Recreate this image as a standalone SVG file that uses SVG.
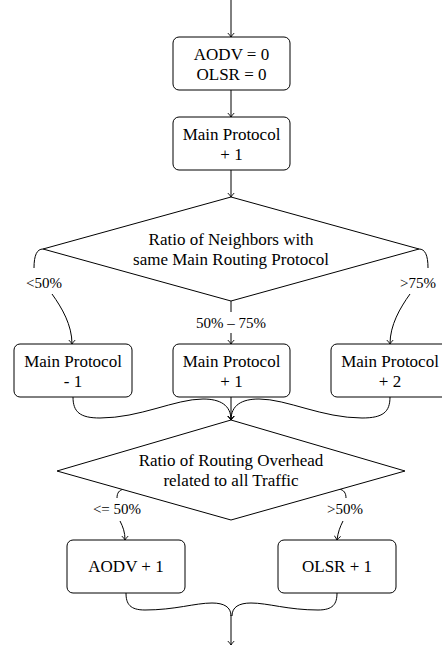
<svg xmlns="http://www.w3.org/2000/svg" width="442" height="646" viewBox="0 0 442 646">
<style>
.box{fill:#fff;stroke:#000;stroke-width:1}
.dia{fill:#fff;stroke:#000;stroke-width:1}
.t{font-family:'Liberation Serif','Times New Roman',Times,serif;font-size:17px;fill:#000;text-anchor:middle}
.l{font-family:'Liberation Serif','Times New Roman',Times,serif;font-size:15px;fill:#000;text-anchor:middle}
.e{fill:none;stroke:#000;stroke-width:1}
.a{marker-end:url(#arr)}
</style>
<defs>
<marker id="arr" markerUnits="userSpaceOnUse" viewBox="-5 -4 6 8" markerWidth="6" markerHeight="8" refX="0" refY="0" orient="auto">
<path d="M-4,-3.2 Q-1.6,-0.9 0,0 Q-1.6,0.9 -4,3.2" fill="none" stroke="#000" stroke-width="0.9"/>
</marker>
</defs>
<g id="connectors">
<path class="e a" d="M231,0 L231,37"/>
<path class="e a" d="M231,90 L231,117"/>
<path class="e a" d="M231,170 L231,197"/>
<path class="e" d="M43,249 C37,249 34,255 34,268"/>
<path class="e a" d="M52,294 C62,308 72,325 72,344"/>
<path class="e" d="M419,249 C425,249 428,255 428,268"/>
<path class="e a" d="M410,294 C400,308 390,325 390,344"/>
<path class="e" d="M231,301 L231,312"/>
<path class="e a" d="M231,333 L231,344"/>
<path class="e a" d="M73,397 C73,412 80,418 100,418 C140,418 175,399 203,399 C220,399 231,405 231,420"/>
<path class="e a" d="M231,397 L231,420"/>
<path class="e a" d="M390,397 C390,412 383,418 362,418 C322,418 287,399 259,399 C242,399 231,405 231,420"/>
<path class="e" d="M124,489 C119,490 117,493 117,498"/>
<path class="e a" d="M120,521 C123,527 125,532 125,540"/>
<path class="e" d="M339,489 C344,490 346,493 346,498"/>
<path class="e a" d="M343,521 C340,527 338,532 337,540"/>
<path class="e" d="M126,593 C126,604 130,610 145,610 C175,610 195,603 212,603 C224,603 231,607 231,616"/>
<path class="e" d="M337,593 C337,604 333,610 318,610 C288,610 268,603 251,603 C239,603 232,607 232,616"/>
<path class="e a" d="M231,615 L231,645"/>
<text class="l" x="44" y="288">&lt;50%</text>
<text class="l" x="418" y="288">&gt;75%</text>
<text class="l" x="231" y="328">50% – 75%</text>
<text class="l" x="117" y="514">&lt;= 50%</text>
<text class="l" x="345" y="514">&gt;50%</text>
</g>
<g id="init">
<rect class="box" x="173" y="37" width="117" height="53" rx="6"/>
<text class="t" x="231.5" y="59.5">AODV = 0</text>
<text class="t" x="231.5" y="79.5">OLSR = 0</text>
</g>
<g id="main_inc">
<rect class="box" x="173" y="117" width="117" height="53" rx="6"/>
<text class="t" x="231.5" y="139.5">Main Protocol</text>
<text class="t" x="231.5" y="159.5">+ 1</text>
</g>
<g id="decision1">
<polygon class="dia" points="231,197 419,249 231,301 43,249"/>
<text class="t" x="231" y="245">Ratio of Neighbors with</text>
<text class="t" x="231" y="265">same Main Routing Protocol</text>
</g>
<g id="main_minus1">
<rect class="box" x="14" y="344" width="118" height="53" rx="6"/>
<text class="t" x="73" y="366.5">Main Protocol</text>
<text class="t" x="73" y="386.5">- 1</text>
</g>
<g id="main_plus1">
<rect class="box" x="173" y="344" width="117" height="53" rx="6"/>
<text class="t" x="231.5" y="366.5">Main Protocol</text>
<text class="t" x="231.5" y="386.5">+ 1</text>
</g>
<g id="main_plus2">
<rect class="box" x="331" y="344" width="118" height="53" rx="6"/>
<text class="t" x="390" y="366.5">Main Protocol</text>
<text class="t" x="390" y="386.5">+ 2</text>
</g>
<g id="decision2">
<polygon class="dia" points="231,420 405,471 231,520 57,471"/>
<text class="t" x="231" y="466">Ratio of Routing Overhead</text>
<text class="t" x="231" y="486">related to all Traffic</text>
</g>
<g id="aodv_inc">
<rect class="box" x="67" y="540" width="118" height="53" rx="6"/>
<text class="t" x="126" y="572">AODV + 1</text>
</g>
<g id="olsr_inc">
<rect class="box" x="278" y="540" width="118" height="53" rx="6"/>
<text class="t" x="337" y="572">OLSR + 1</text>
</g>
</svg>
